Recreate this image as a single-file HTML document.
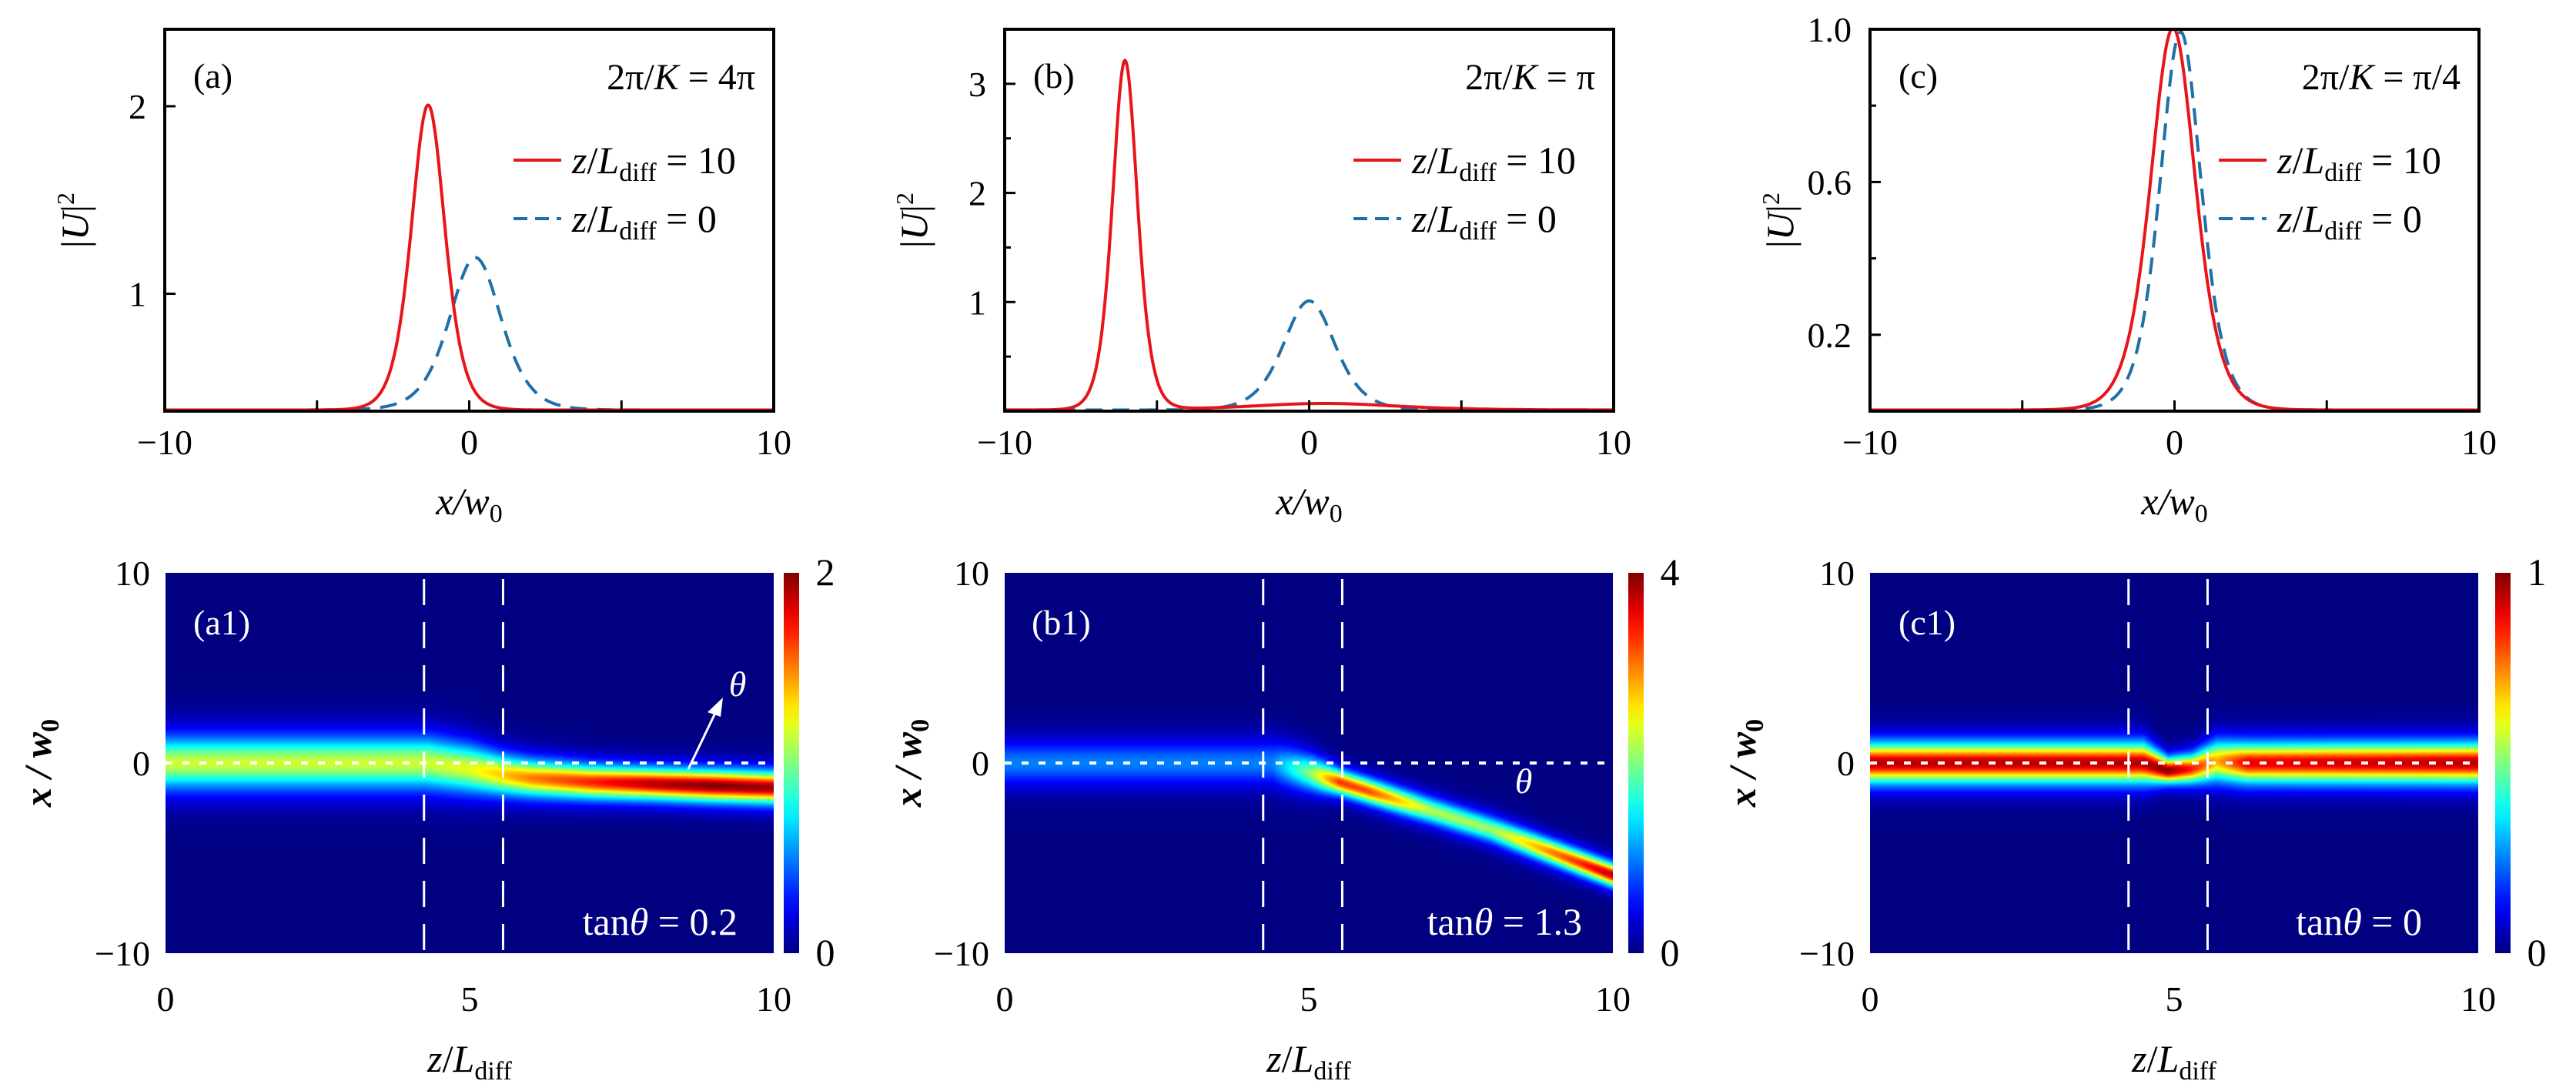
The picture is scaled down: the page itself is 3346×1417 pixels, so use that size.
<!DOCTYPE html>
<html><head><meta charset="utf-8"><style>
html,body{margin:0;padding:0;background:#fff;}
#root{position:relative;width:3346px;height:1417px;overflow:hidden;font-family:"Liberation Serif",serif;}
canvas{position:absolute;}
svg{position:absolute;left:0;top:0;}
</style></head><body>
<div id="root">
<canvas id="hmA" width="790" height="494" style="left:215px;top:744px"></canvas>
<canvas id="hmB" width="790" height="494" style="left:1305px;top:744px"></canvas>
<canvas id="hmC" width="790" height="494" style="left:2429px;top:744px"></canvas>
<svg id="svg" width="3346" height="1417" xmlns="http://www.w3.org/2000/svg"></svg>
</div>
<script>
// ---- line-plot data (sech^2 peaks) ----
const xTickValues=[-10,0,10];
const xMinorTicks=[-5,5];
const aYTicks=[0.77,2];
const aYTickLabels=["1","2"];
const bYTicks=[1,2,3];
const bYMinor=[0.5,1.5,2.5];
const cYTicks=[0.2,0.6,1.0];
const cYTickLabels=["0.2","0.6","1.0"];
const cYMinor=[0.4,0.8];
const aRedCenters=[-1.35], aRedHeights=[2.0], aRedWidths=[0.74];
const aBlueCenters=[0.2], aBlueHeights=[1.0], aBlueWidths=[1.14];
const bRedCenters=[-6.05,0.5], bRedHeights=[3.2,0.06], bRedWidths=[0.55,3.2];
const bBlueCenters=[0], bBlueHeights=[1.0], bBlueWidths=[1.14];
const cRedCenters=[-0.05], cRedHeights=[1.0], cRedWidths=[0.99];
const cBlueCenters=[0.2], cBlueHeights=[0.99], cBlueWidths=[0.91];
// ---- heatmap data (beam track vs z) ----
const zTicks=[0,5,10];
const xTicksHm=[-10,0,10];
const a1Z=[0,4.3,5,5.5,6,7,8,9,10];
const a1Center=[0,0,-0.3,-0.6,-0.8,-1.0,-1.1,-1.2,-1.3];
const a1Peak=[1.15,1.15,1.2,1.35,1.5,1.7,1.9,2.0,1.95];
const a1Width=[1.3,1.3,1.2,1.0,0.9,0.8,0.75,0.75,0.75];
const b1Z=[0,4.4,5,5.5,6,7,8,9,10];
const b1Center=[0,0,-0.5,-1.0,-1.5,-2.5,-3.5,-4.7,-5.9];
const b1Peak=[1,1,2,3.3,3.2,2.2,2.1,3.0,3.8];
const b1Width=[1.15,1.15,0.9,0.6,0.6,0.65,0.65,0.6,0.55];
const c1Z=[0,4.5,4.9,5.3,5.7,6.2,10];
const c1Center=[0,0,-0.4,-0.3,0.1,0,0];
const c1Peak=[0.95,0.95,1.0,0.85,0.7,0.9,0.95];
const c1Width=[0.95,0.95,0.6,0.7,1.0,0.95,0.95];
const cbMax=[2,4,1];
const dividerZ=[4.25,5.55];

const NS="http://www.w3.org/2000/svg";
const svg=document.getElementById('svg');
function el(tag,attrs,parent){const e=document.createElementNS(NS,tag);for(const k in attrs)e.setAttribute(k,attrs[k]);(parent||svg).appendChild(e);return e;}
function sech2(u){const c=Math.cosh(u);return 1/(c*c);}
function model(x,cs,hs,ws){let s=0;for(let i=0;i<cs.length;i++)s+=hs[i]*sech2((x-cs[i])/ws[i]);return s;}
function jet(v){v=Math.max(0,Math.min(1,v));const cl=t=>Math.max(0,Math.min(1,t));
 return [cl(1.5-Math.abs(4*v-3)),cl(1.5-Math.abs(4*v-2)),cl(1.5-Math.abs(4*v-1))].map(t=>Math.round(t*255));}
function interp(zs,vs,z){if(z<=zs[0])return vs[0];for(let i=1;i<zs.length;i++){if(z<=zs[i]){const t=(z-zs[i-1])/(zs[i]-zs[i-1]);return vs[i-1]+t*(vs[i]-vs[i-1]);}}return vs[vs.length-1];}

const TOP0=38,TOP1=534,HM0=744,HM1=1238;
const tops=[
 {key:'a',x0:214,x1:1005,ymin:0,ymax:2.505,yt:aYTicks,ytl:aYTickLabels,ym:[],red:[aRedCenters,aRedHeights,aRedWidths],blue:[aBlueCenters,aBlueHeights,aBlueWidths],lab:'(a)',labx:251,k:'4π',ytx:100},
 {key:'b',x0:1305,x1:2096,ymin:0,ymax:3.5,yt:bYTicks,ytl:bYTicks.map(String),ym:bYMinor,red:[bRedCenters,bRedHeights,bRedWidths],blue:[bBlueCenters,bBlueHeights,bBlueWidths],lab:'(b)',labx:1342,k:'π',ytx:1190},
 {key:'c',x0:2429,x1:3220,ymin:0,ymax:1.0,yt:cYTicks,ytl:cYTickLabels,ym:cYMinor,red:[cRedCenters,cRedHeights,cRedWidths],blue:[cBlueCenters,cBlueHeights,cBlueWidths],lab:'(c)',labx:2466,k:'π/4',ytx:2315}
];
tops.forEach(p=>{
 const g=el('g',{});
 
 
 const sx=x=>p.x0+(x+10)/20*(p.x1-p.x0);
 const sy=y=>TOP1-(y-p.ymin)/(p.ymax-p.ymin)*(TOP1-TOP0);
 const clip=el('clipPath',{id:'clip'+p.key},g);el('rect',{x:p.x0,y:TOP0-2,width:p.x1-p.x0,height:TOP1-TOP0+2},clip);
 function path(ser,stroke,dash,name){let d='';for(let i=0;i<=800;i++){const x=-10+20*i/800;let y=model(x,ser[0],ser[1],ser[2]);y=Math.max(p.ymin,y);d+=(i?'L':'M')+sx(x).toFixed(1)+','+Math.max(TOP0,sy(y)-1.5).toFixed(1);}
  const e=el('path',{d:d,fill:'none',stroke:stroke,'stroke-width':4,'clip-path':'url(#clip'+p.key+')'},g);if(dash)e.setAttribute('stroke-dasharray',dash);
  }
 path(p.blue,'#1f6fa8','22 13','curve-z0');
 path(p.red,'#e8141a',null,'curve-z10');
 const fr=el('rect',{x:p.x0,y:TOP0,width:p.x1-p.x0,height:TOP1-TOP0,fill:'none',stroke:'#000','stroke-width':4},g);
 
 xTickValues.concat(xMinorTicks).forEach(v=>{el('line',{x1:sx(v),x2:sx(v),y1:TOP1,y2:TOP1-14,stroke:'#000','stroke-width':3},g);});
 xTickValues.forEach(v=>{const t=el('text',{x:sx(v),y:590,'font-size':46,'text-anchor':'middle'},g);t.textContent=(v<0?'−':'')+Math.abs(v);
  });
 p.yt.forEach((v,i)=>{el('line',{x1:p.x0,x2:p.x0+14,y1:sy(v),y2:sy(v),stroke:'#000','stroke-width':3},g);
  const t=el('text',{x:p.x0-24,y:sy(v)+16,'font-size':46,'text-anchor':'end'},g);t.textContent=p.ytl[i];
  });
 p.ym.forEach(v=>el('line',{x1:p.x0,x2:p.x0+8,y1:sy(v),y2:sy(v),stroke:'#000','stroke-width':3},g));
 const xt=el('text',{x:(p.x0+p.x1)/2,y:668,'font-size':50,'text-anchor':'middle','font-style':'italic'},g);
 xt.innerHTML='x/w<tspan font-size="34" dy="10" font-style="normal">0</tspan>';
 
 const yt=el('text',{x:0,y:0,'font-size':50,'text-anchor':'middle',transform:'translate('+(p.ytx+14)+',286) rotate(-90)'},g);
 yt.innerHTML='|<tspan font-style="italic">U</tspan>|<tspan font-size="32" dy="-18">2</tspan>';
 
 const lb=el('text',{x:p.labx,y:114,'font-size':46},g);lb.textContent=p.lab;
 
 const kt=el('text',{x:p.x1-24,y:116,'font-size':48,'text-anchor':'end'},g);
 kt.innerHTML='2π/<tspan font-style="italic">K</tspan> = '+p.k;
 
 const lx=p.x1-338;
 [['#e8141a',null,'10',208],['#1f6fa8','18 10','0',284]].forEach((L,i)=>{
  const lg=el('g',{},g);
  const ln=el('line',{x1:lx,x2:lx+62,y1:L[3],y2:L[3],stroke:L[0],'stroke-width':4},lg);if(L[1])ln.setAttribute('stroke-dasharray',L[1]);
  const t=el('text',{x:lx+76,y:L[3]+17,'font-size':50},lg);
  t.innerHTML='<tspan font-style="italic">z</tspan>/<tspan font-style="italic">L</tspan><tspan font-size="34" dy="10">diff</tspan><tspan dy="-10"> = '+L[2]+'</tspan>';
 });
});

// ---- heatmaps ----
const hms=[
 {key:'a1',cv:'hmA',x0:215,x1:1005,Z:a1Z,C:a1Center,P:a1Peak,Wd:a1Width,max:cbMax[0],cb:1018,tan:'0.2',labx:251,tanx:958,ytx:50},
 {key:'b1',cv:'hmB',x0:1305,x1:2095,Z:b1Z,C:b1Center,P:b1Peak,Wd:b1Width,max:cbMax[1],cb:2115,tan:'1.3',labx:1340,tanx:2055,ytx:1180},
 {key:'c1',cv:'hmC',x0:2429,x1:3219,Z:c1Z,C:c1Center,P:c1Peak,Wd:c1Width,max:cbMax[2],cb:3241,tan:'0',labx:2466,tanx:3146,ytx:2264}
];
const defs=el('defs',{});
const grad=el('linearGradient',{id:'jet',x1:0,y1:1,x2:0,y2:0},defs);
for(let i=0;i<=20;i++){const c=jet(i/20);el('stop',{offset:(i/20),'stop-color':'rgb('+c.join(',')+')'},grad);}
hms.forEach(h=>{
 const cv=document.getElementById(h.cv),ctx=cv.getContext('2d');const Wc=cv.width,Hc=cv.height;
 const img=ctx.createImageData(Wc,Hc);
 for(let px=0;px<Wc;px++){const z=px/(Wc-1)*10;const c=interp(h.Z,h.C,z),pk=interp(h.Z,h.P,z),w=interp(h.Z,h.Wd,z);
  for(let py=0;py<Hc;py++){const x=10-20*py/(Hc-1);const v=pk*sech2((x-c)/w)/h.max;const col=jet(v);const o=(py*Wc+px)*4;
   img.data[o]=col[0];img.data[o+1]=col[1];img.data[o+2]=col[2];img.data[o+3]=255;}}
 ctx.putImageData(img,0,0);
 const g=el('g',{});
 const sx=z=>h.x0+z/10*(h.x1-h.x0);const sy=x=>HM1-(x+10)/20*(HM1-HM0);
 dividerZ.forEach(z=>{const l=el('line',{x1:sx(z),x2:sx(z),y1:HM0+8,y2:HM1-4,stroke:'#fff','stroke-width':3,'stroke-dasharray':'34 22'},g);
  });
 const hl=el('line',{x1:h.x0,x2:h.x1-8,y1:sy(0),y2:sy(0),stroke:'#fff','stroke-width':4,'stroke-dasharray':'9 13'},g);
 
 const cb=el('rect',{x:h.cb,y:HM0,width:20,height:HM1-HM0,fill:'url(#jet)'},g);
 
 [[h.max,HM0+16],[0,HM1+16]].forEach(L=>{const t=el('text',{x:h.cb+54,y:L[1],'font-size':50,'text-anchor':'middle'},g);t.textContent=L[0];
  });
 zTicks.forEach(v=>{const t=el('text',{x:sx(v),y:1313,'font-size':46,'text-anchor':'middle'},g);t.textContent=v;
  });
 xTicksHm.forEach(v=>{const t=el('text',{x:h.x0-20,y:sy(v)+16,'font-size':46,'text-anchor':'end'},g);t.textContent=(v<0?'−':'')+Math.abs(v);
  });
 const xt=el('text',{x:(h.x0+h.x1)/2,y:1392,'font-size':50,'text-anchor':'middle'},g);
 xt.innerHTML='<tspan font-style="italic">z</tspan>/<tspan font-style="italic">L</tspan><tspan font-size="34" dy="10">diff</tspan>';
 
 const yt=el('text',{x:0,y:0,'font-size':50,'text-anchor':'middle','font-style':'italic','font-weight':'bold',transform:'translate('+(h.ytx+16)+',991) rotate(-90)'},g);
 yt.innerHTML='x / w<tspan font-size="34" dy="10" font-style="normal">0</tspan>';
 
 const lb=el('text',{x:h.labx,y:824,'font-size':46,fill:'#fff'},g);lb.textContent='('+h.key+')';
 
 const tt=el('text',{x:h.tanx,y:1214,'font-size':50,fill:'#fff','text-anchor':'end'},g);
 tt.innerHTML='tan<tspan font-style="italic">θ</tspan> = '+h.tan;
 
 if(h.key==='a1'){
  const ar=el('line',{x1:894,y1:999,x2:931,y2:922,stroke:'#fff','stroke-width':3},g);
  
  el('polygon',{points:'939,906 919,925 936,931',fill:'#fff'},g);
  const th=el('text',{x:958,y:904,'font-size':46,fill:'#fff','font-style':'italic','text-anchor':'middle'},g);th.textContent='θ';
  
 }
 if(h.key==='b1'){
  const th=el('text',{x:1979,y:1030,'font-size':46,fill:'#fff','font-style':'italic','text-anchor':'middle'},g);th.textContent='θ';
  
 }
});
</script>
</body></html>
